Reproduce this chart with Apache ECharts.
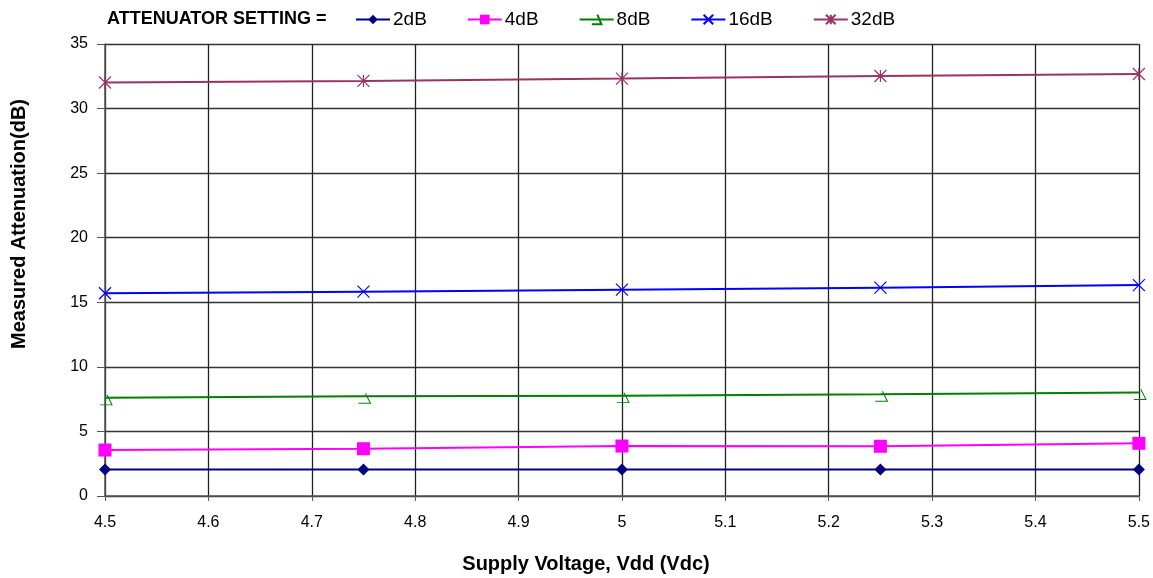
<!DOCTYPE html>
<html>
<head>
<meta charset="utf-8">
<script src="https://cdn.jsdelivr.net/npm/echarts@6/dist/echarts.min.js"></script>
<style>
html,body{margin:0;padding:0;background:#fff;}
#chart{width:1153px;height:578px;}
</style>
</head>
<body>
<div id="chart"></div>
<script>
const voltages = [4.5, 4.75, 5.0, 5.25, 5.5];
const att2dB  = [2.05, 2.05, 2.05, 2.05, 2.05];
const att4dB  = [3.56, 3.66, 3.87, 3.85, 4.08];
const att8dB  = [7.6, 7.72, 7.77, 7.88, 8.02];
const att16dB = [15.7, 15.82, 15.98, 16.13, 16.33];
const att32dB = [32.02, 32.14, 32.32, 32.52, 32.68];
const seriesNames = ['2dB', '4dB', '8dB', '16dB', '32dB'];

const pairs = arr => voltages.map((v, i) => [v, arr[i]]);
const FONT = '"Liberation Sans", Arial, sans-serif';

const chart = echarts.init(document.getElementById('chart'), null, {renderer: 'canvas'});

function mk(name, data, color, symbol, size, itemStyle, offset) {
  return {
    name: name, type: 'line', data: pairs(data),
    symbol: symbol, symbolSize: size, symbolOffset: offset || [0, 0],
    showSymbol: true, showAllSymbol: true,
    lineStyle: {color: color, width: 2},
    itemStyle: itemStyle,
    emphasis: {disabled: true},
    z: 3
  };
}

const option = {
  animation: false,
  backgroundColor: '#fff',
  textStyle: {fontFamily: FONT},
  graphic: [
    {
      type: 'text', left: 107, top: 10,
      style: {text: 'ATTENUATOR SETTING =', font: 'bold 18px ' + FONT, fill: '#000'}
    },
    {
      type: 'text', x: 586, y: 564,
      style: {text: 'Supply Voltage, Vdd (Vdc)', font: 'bold 20px ' + FONT, fill: '#000',
              align: 'center', verticalAlign: 'middle'}
    },
    {
      type: 'text', x: 19, y: 224, rotation: Math.PI / 2,
      style: {text: 'Measured Attenuation(dB)', font: 'bold 20px ' + FONT, fill: '#000',
              align: 'center', verticalAlign: 'middle'}
    }
  ],
  legend: {
    left: 350, top: 5,
    itemWidth: 34, itemHeight: 12, itemGap: 40,
    textStyle: {fontSize: 19, color: '#000', fontFamily: FONT, padding: [0, 0, 0, -2]},
    data: seriesNames
  },
  grid: {left: 105, right: 14, top: 44, bottom: 82, containLabel: false},
  xAxis: {
    type: 'value', min: 4.5, max: 5.5, interval: 0.1,
    axisLine: {show: true, lineStyle: {color: '#555', width: 1.5}},
    axisTick: {show: true, inside: false, length: 5, lineStyle: {color: '#555'}},
    axisLabel: {fontSize: 16, color: '#000', margin: 19, formatter: v => String(parseFloat(v.toFixed(2)))},
    splitLine: {show: true, lineStyle: {color: '#222', width: 1.3}}
  },
  yAxis: {
    type: 'value', min: 0, max: 35, interval: 5,
    axisLine: {show: true, lineStyle: {color: '#555', width: 1.5}},
    axisTick: {show: true, inside: false, length: 8, lineStyle: {color: '#555'}},
    axisLabel: {fontSize: 16, color: '#000', margin: 17},
    splitLine: {show: true, lineStyle: {color: '#333', width: 1.3}}
  },
  series: [
    mk('2dB', att2dB, '#000080', 'diamond', 12, {color: '#000080'}),
    mk('4dB', att4dB, '#FF00FF', 'rect', 13, {color: '#FF00FF'}),
    mk('8dB', att8dB, '#008000', 'path://M7,0 L12,10 L0,10', [12, 10],
       {color: 'rgba(0,0,0,0)', borderColor: '#008000', borderWidth: 1}, [1, 2]),
    mk('16dB', att16dB, '#0000FF', 'path://M0,0 L10,10 M10,0 L0,10', 12,
       {color: '#0000FF', borderColor: '#0000FF', borderWidth: 1.2}),
    mk('32dB', att32dB, '#993366', 'path://M0,0 L10,10 M10,0 L0,10 M5,0 L5,10', 12,
       {color: '#993366', borderColor: '#993366', borderWidth: 1.2})
  ]
};
chart.setOption(option);
</script>
</body>
</html>
